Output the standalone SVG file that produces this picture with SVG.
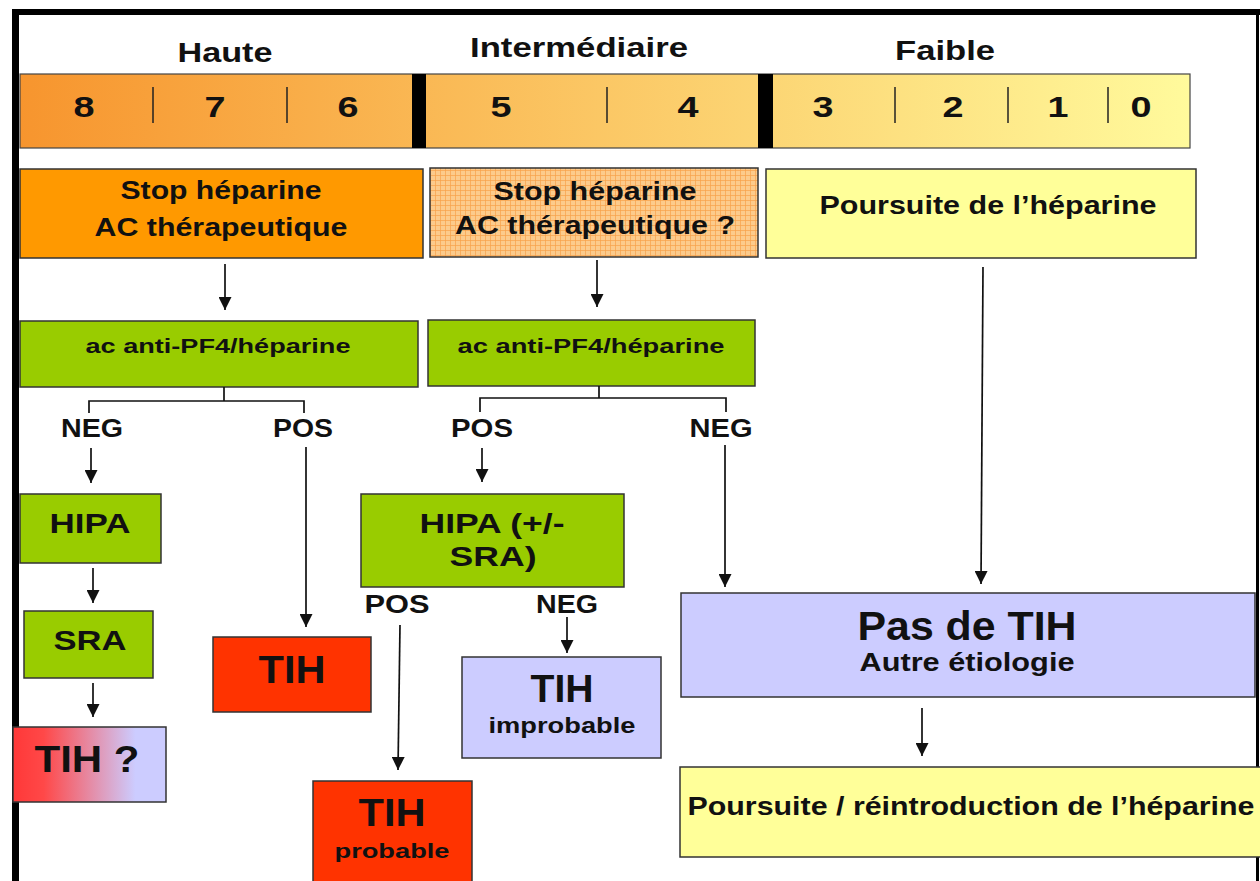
<svg xmlns="http://www.w3.org/2000/svg" width="1260" height="881" viewBox="0 0 1260 881">
  <defs>
    <linearGradient id="barGrad" gradientUnits="userSpaceOnUse" x1="20" y1="0" x2="1190" y2="0">
      <stop offset="0" stop-color="#F7952E"/>
      <stop offset="1" stop-color="#FFFA9C"/>
    </linearGradient>
    <linearGradient id="tihq" x1="0" y1="0" x2="1" y2="0">
      <stop offset="0" stop-color="#FF3838"/>
      <stop offset="0.2" stop-color="#FF4848"/>
      <stop offset="0.8" stop-color="#CCCCFF"/>
      <stop offset="1" stop-color="#CCCCFF"/>
    </linearGradient>
    <pattern id="check" patternUnits="userSpaceOnUse" width="5" height="5">
      <rect width="5" height="5" fill="#FCCB8C"/>
      <path d="M0 0.4 H5 M0.4 0 V5" stroke="#F7A24A" stroke-width="0.8" fill="none"/>
    </pattern>
    <marker id="ah" viewBox="0 0 13 13" refX="13" refY="6.5" markerWidth="13" markerHeight="13" markerUnits="userSpaceOnUse" orient="auto">
      <path d="M0,0 L13,6.5 L0,13 z" fill="#111"/>
    </marker>
    <style>
      text { font-family: "Liberation Sans", Arial, sans-serif; font-weight: bold; fill: #111; text-anchor: middle; }
      .box { stroke: #333; stroke-width: 1.5; }
      .orange { fill: #FF9900; }
      .green { fill: #99CC00; }
      .yellow { fill: #FFFF99; }
      .lav { fill: #CCCCFF; }
      .red { fill: #FF3300; }
      .conn line, .conn path { stroke: #111; stroke-width: 1.7; fill: none; }
      .tick { stroke: #222; stroke-width: 1.5; }
      .hdr { font-size: 28px; }
      .dig { font-size: 30px; }
      .t25 { font-size: 25px; }
      .t20 { font-size: 20px; }
      .t28 { font-size: 28px; }
    </style>
  </defs>

  <rect width="1260" height="881" fill="#FFFFFF"/>

  <!-- frame -->
  <g id="frame">
    <rect x="12" y="9" width="1248" height="6" fill="#000"/>
    <rect x="12" y="9" width="7" height="872" fill="#000"/>
    <rect x="1256" y="9" width="3" height="872" fill="#000"/>
  </g>

  <!-- scale -->
  <g id="scale">
    <text class="hdr" x="225" y="62" textLength="95" lengthAdjust="spacingAndGlyphs">Haute</text>
    <text class="hdr" x="579" y="57" textLength="218" lengthAdjust="spacingAndGlyphs">Intermédiaire</text>
    <text class="hdr" x="945" y="60" textLength="100" lengthAdjust="spacingAndGlyphs">Faible</text>
    <rect x="20" y="74" width="1170" height="74" fill="url(#barGrad)" stroke="#444" stroke-width="1.2"/>
    <rect x="412" y="74" width="14" height="74" fill="#000"/>
    <rect x="758" y="74" width="15" height="74" fill="#000"/>
    <line class="tick" x1="153" y1="87" x2="153" y2="123"/>
    <line class="tick" x1="287" y1="87" x2="287" y2="123"/>
    <line class="tick" x1="607" y1="87" x2="607" y2="123"/>
    <line class="tick" x1="895" y1="87" x2="895" y2="123"/>
    <line class="tick" x1="1008" y1="87" x2="1008" y2="123"/>
    <line class="tick" x1="1108" y1="87" x2="1108" y2="123"/>
    <text class="dig" x="84" y="117" textLength="21" lengthAdjust="spacingAndGlyphs">8</text>
    <text class="dig" x="215" y="117" textLength="21" lengthAdjust="spacingAndGlyphs">7</text>
    <text class="dig" x="348" y="117" textLength="21" lengthAdjust="spacingAndGlyphs">6</text>
    <text class="dig" x="501" y="117" textLength="21" lengthAdjust="spacingAndGlyphs">5</text>
    <text class="dig" x="688" y="117" textLength="21" lengthAdjust="spacingAndGlyphs">4</text>
    <text class="dig" x="823" y="117" textLength="21" lengthAdjust="spacingAndGlyphs">3</text>
    <text class="dig" x="953" y="117" textLength="21" lengthAdjust="spacingAndGlyphs">2</text>
    <text class="dig" x="1058" y="117" textLength="21" lengthAdjust="spacingAndGlyphs">1</text>
    <text class="dig" x="1141" y="117" textLength="21" lengthAdjust="spacingAndGlyphs">0</text>
  </g>

  <!-- nodes -->
  <g id="stop-high">
    <rect class="box orange" x="20" y="169" width="403" height="89"/>
    <text class="t25" x="221" y="199" textLength="201" lengthAdjust="spacingAndGlyphs">Stop héparine</text>
    <text class="t25" x="221" y="236" textLength="253" lengthAdjust="spacingAndGlyphs">AC thérapeutique</text>
  </g>
  <g id="stop-mid">
    <rect class="box" x="430" y="168" width="328" height="89" fill="url(#check)"/>
    <text class="t25" x="595" y="200" textLength="203" lengthAdjust="spacingAndGlyphs">Stop héparine</text>
    <text class="t25" x="595" y="234" textLength="280" lengthAdjust="spacingAndGlyphs">AC thérapeutique ?</text>
  </g>
  <g id="poursuite">
    <rect class="box yellow" x="766" y="169" width="430" height="89"/>
    <text class="t25" x="988" y="214" textLength="337" lengthAdjust="spacingAndGlyphs">Poursuite de l’héparine</text>
  </g>
  <g id="pf4-left">
    <rect class="box green" x="20" y="321" width="398" height="66"/>
    <text class="t20" x="218" y="353" textLength="265" lengthAdjust="spacingAndGlyphs">ac anti-PF4/héparine</text>
  </g>
  <g id="pf4-mid">
    <rect class="box green" x="428" y="320" width="327" height="66"/>
    <text class="t20" x="591" y="353" textLength="267" lengthAdjust="spacingAndGlyphs">ac anti-PF4/héparine</text>
  </g>
  <g id="hipa-left">
    <rect class="box green" x="20" y="494" width="141" height="69"/>
    <text class="t28" x="90" y="533" textLength="81" lengthAdjust="spacingAndGlyphs">HIPA</text>
  </g>
  <g id="sra-left">
    <rect class="box green" x="24" y="611" width="129" height="67"/>
    <text class="t28" x="90" y="650" textLength="73" lengthAdjust="spacingAndGlyphs">SRA</text>
  </g>
  <g id="tih-question">
    <rect class="box" x="13" y="727" width="153" height="75" fill="url(#tihq)"/>
    <text x="87" y="772" font-size="36" textLength="105" lengthAdjust="spacingAndGlyphs">TIH ?</text>
  </g>
  <g id="tih-red">
    <rect class="box red" x="213" y="637" width="158" height="75"/>
    <text x="292" y="683" font-size="38" textLength="67" lengthAdjust="spacingAndGlyphs">TIH</text>
  </g>
  <g id="hipa-sra">
    <rect class="box green" x="361" y="494" width="263" height="93"/>
    <text class="t28" x="492" y="533" textLength="145" lengthAdjust="spacingAndGlyphs">HIPA (+/-</text>
    <text class="t28" x="493" y="566" textLength="87" lengthAdjust="spacingAndGlyphs">SRA)</text>
  </g>
  <g id="tih-improbable">
    <rect class="box lav" x="462" y="657" width="199" height="101"/>
    <text x="562" y="702" font-size="38" textLength="63" lengthAdjust="spacingAndGlyphs">TIH</text>
    <text x="562" y="733" font-size="22" textLength="147" lengthAdjust="spacingAndGlyphs">improbable</text>
  </g>
  <g id="tih-probable">
    <rect class="box red" x="313" y="781" width="159" height="110"/>
    <text x="392" y="826" font-size="38" textLength="67" lengthAdjust="spacingAndGlyphs">TIH</text>
    <text x="392" y="858" font-size="21" textLength="115" lengthAdjust="spacingAndGlyphs">probable</text>
  </g>
  <g id="pas-de-tih">
    <rect class="box lav" x="681" y="593" width="574" height="104"/>
    <text x="967" y="640" font-size="40" textLength="219" lengthAdjust="spacingAndGlyphs">Pas de TIH</text>
    <text class="t25" x="967" y="671" textLength="215" lengthAdjust="spacingAndGlyphs">Autre étiologie</text>
  </g>
  <g id="reintroduction">
    <rect class="box yellow" x="680" y="767" width="590" height="90"/>
    <text class="t25" x="971" y="815" textLength="567" lengthAdjust="spacingAndGlyphs">Poursuite / réintroduction de l’héparine</text>
  </g>

  <!-- connector labels -->
  <g id="labels">
    <text class="t25" x="92" y="437" textLength="62" lengthAdjust="spacingAndGlyphs">NEG</text>
    <text class="t25" x="303" y="437" textLength="60" lengthAdjust="spacingAndGlyphs">POS</text>
    <text class="t25" x="482" y="437" textLength="62" lengthAdjust="spacingAndGlyphs">POS</text>
    <text class="t25" x="721" y="437" textLength="63" lengthAdjust="spacingAndGlyphs">NEG</text>
    <text class="t25" x="397" y="613" textLength="65" lengthAdjust="spacingAndGlyphs">POS</text>
    <text class="t25" x="567" y="613" textLength="62" lengthAdjust="spacingAndGlyphs">NEG</text>
  </g>

  <!-- connectors -->
  <g id="connectors" class="conn">
    <line x1="225" y1="264" x2="225" y2="310" marker-end="url(#ah)"/>
    <line x1="597" y1="260" x2="597" y2="307" marker-end="url(#ah)"/>
    <line x1="983" y1="267" x2="981" y2="584" marker-end="url(#ah)"/>
    <path d="M224 387 V401 M89 413 V401 H304 V413"/>
    <path d="M599 386 V398 M480 412 V398 H726 V412"/>
    <line x1="91" y1="448" x2="91" y2="483" marker-end="url(#ah)"/>
    <line x1="306" y1="447" x2="306" y2="627" marker-end="url(#ah)"/>
    <line x1="482" y1="448" x2="482" y2="482" marker-end="url(#ah)"/>
    <line x1="725" y1="445" x2="725" y2="587" marker-end="url(#ah)"/>
    <line x1="93" y1="568" x2="93" y2="603" marker-end="url(#ah)"/>
    <line x1="93" y1="683" x2="93" y2="717" marker-end="url(#ah)"/>
    <line x1="400" y1="625" x2="398" y2="770" marker-end="url(#ah)"/>
    <line x1="567" y1="617" x2="567" y2="653" marker-end="url(#ah)"/>
    <line x1="922" y1="708" x2="922" y2="756" marker-end="url(#ah)"/>
  </g>
</svg>
